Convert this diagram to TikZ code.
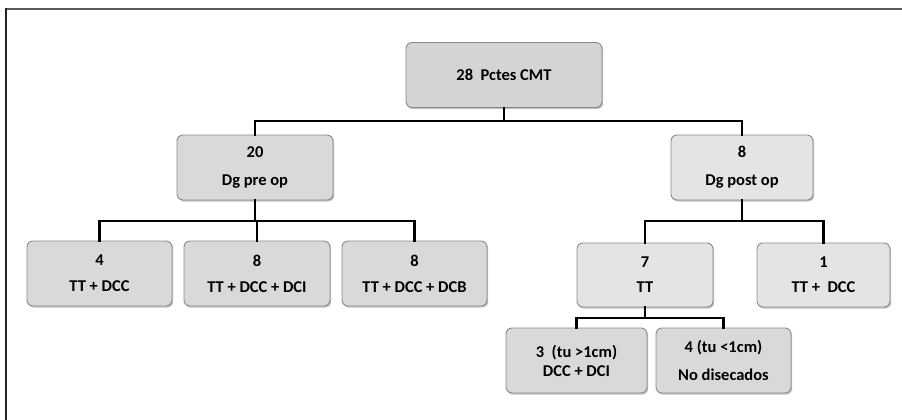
\documentclass[tikz,border=0pt]{standalone}
\usepackage{fontspec}
\setmainfont{Carlito}
\usetikzlibrary{shadows}
\definecolor{boxborder}{HTML}{8A8A8A}
\definecolor{fillA}{HTML}{D4D4D4}
\definecolor{fillB}{HTML}{D9D9D9}
\definecolor{fillC}{HTML}{E4E4E4}
\definecolor{frameTop}{HTML}{5A5A5A}
\definecolor{frameLeft}{HTML}{222222}
\tikzset{
  box/.style={draw=boxborder, line width=0.9pt, rounded corners=6pt, fill=fillB,
    align=center, inner sep=0pt,
    font=\fontsize{16.5}{19}\selectfont\bfseries,
    drop shadow={shadow xshift=1.2pt, shadow yshift=-1.6pt, opacity=0.35, fill=black!70}},
  conn/.style={line width=2.3pt, draw=black, line cap=rect},
}
\begin{document}
\begin{tikzpicture}[x=1pt,y=-1pt]
\useasboundingbox (0,0) rectangle (902,420);
% frame (only top and left edges visible)
\draw[frameTop, line width=2pt] (5,9) -- (902,9);
\draw[frameLeft, line width=2pt] (6,8) -- (6,420);

\node[box, fill=fillA, minimum width=196pt, minimum height=65pt] (root) at (504,75) {28\ \ Pctes CMT};
\node[box, fill=fillB, minimum width=156pt, minimum height=65pt] (pre) at (255,167.5) {20\\[9pt]Dg pre op};
\node[box, fill=fillC, minimum width=142pt, minimum height=65pt] (post) at (742,167.5) {8\\[9pt]Dg post op};

\node[box, minimum width=145pt, minimum height=65pt] (a1) at (99.5,273.5) {4\\[7pt]TT + DCC};
\node[box, minimum width=146pt, minimum height=65pt] (a2) at (257,273.5) {8\\[7pt]TT + DCC + DCI};
\node[box, minimum width=145pt, minimum height=65pt] (a3) at (414.5,273.5) {8\\[7pt]TT + DCC + DCB};

\node[box, fill=fillC, minimum width=136pt, minimum height=64pt] (b1) at (645,275) {7\\[6pt]TT};
\node[box, fill=fillC, minimum width=133pt, minimum height=64pt] (b2) at (823.5,275) {1\\[6pt]TT +\ \ DCC};

\node[box, minimum width=141pt, minimum height=65pt] (c1) at (576.5,360.5) {3\ \ (tu >1cm)\\[0pt]DCC + DCI};
\node[box, minimum width=135pt, minimum height=65pt] (c2) at (723.5,360.5) {4 (tu <1cm)\\[9pt]No disecados};

\coordinate (bus1) at (0,121);
\coordinate (bus2) at (0,221);
\coordinate (bus3) at (0,318);

\draw[conn] (root.south) -- (root.south |- bus1);
\draw[conn] (pre.north) -- (pre.north |- bus1) -- (post.north |- bus1) -- (post.north);

\draw[conn] (pre.south) -- (pre.south |- bus2);
\draw[conn] (a1.north) -- (a1.north |- bus2) -- (a3.north |- bus2) -- (a3.north);
\draw[conn] (a2.north) -- (a2.north |- bus2);

\draw[conn] (post.south) -- (post.south |- bus2);
\draw[conn] (b1.north) -- (b1.north |- bus2) -- (b2.north |- bus2) -- (b2.north);

\draw[conn] (b1.south) -- (b1.south |- bus3);
\draw[conn] (c1.north) -- (c1.north |- bus3) -- (c2.north |- bus3) -- (c2.north);
\end{tikzpicture}
\end{document}
